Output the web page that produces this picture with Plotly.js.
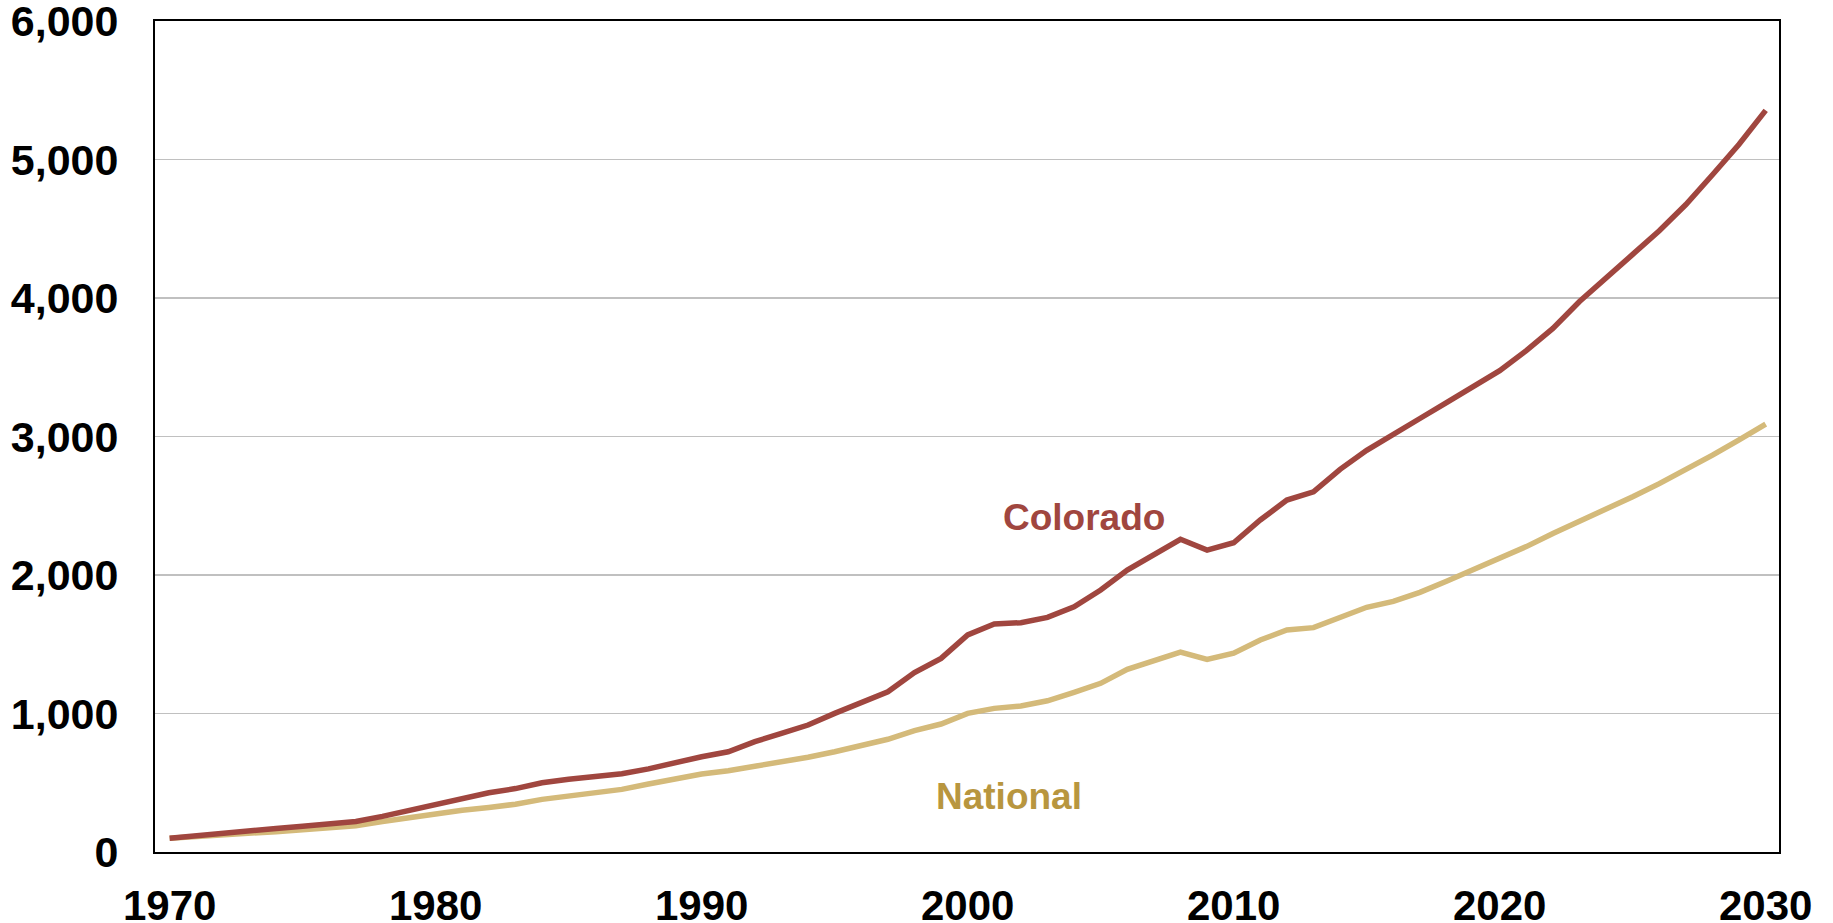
<!DOCTYPE html>
<html>
<head>
<meta charset="utf-8">
<script src="https://cdn.plot.ly/plotly-3.0.1.min.js"></script>
<style>html,body{margin:0;padding:0;background:#fff;}#chart{width:1833px;height:923px;}</style>
</head>
<body>
<div id="chart"></div>
<script>
var years = [1970,1971,1972,1973,1974,1975,1976,1977,1978,1979,
             1980,1981,1982,1983,1984,1985,1986,1987,1988,1989,
             1990,1991,1992,1993,1994,1995,1996,1997,1998,1999,
             2000,2001,2002,2003,2004,2005,2006,2007,2008,2009,
             2010,2011,2012,2013,2014,2015,2016,2017,2018,2019,
             2020,2021,2022,2023,2024,2025,2026,2027,2028,2029,2030];
var colorado = [100,115,132,152,170,186,201,220,257,300,
                345,392,428,458,500,525,545,565,600,645,
                688,724,797,857,917,1001,1078,1157,1295,1398,
                1567,1646,1656,1694,1771,1892,2036,2149,2258,2180,
                2233,2397,2541,2600,2763,2900,3020,3130,3245,3360,
                3475,3620,3780,3975,4150,4315,4485,4675,4890,5110,5355];
var national = [100,110,122,135,147,160,172,190,220,250,
                275,302,322,345,380,404,428,452,491,532,
                563,587,621,645,684,724,765,814,876,924,
                1001,1037,1054,1092,1153,1218,1319,1386,1444,1391,
                1435,1531,1603,1620,1694,1767,1810,1875,1955,2035,
                2120,2205,2300,2385,2475,2565,2660,2760,2865,2975,3090];
var xTicks = [1970,1980,1990,2000,2010,2020,2030];
var yTicks = [0,1000,2000,3000,4000,5000,6000];
var yTickText = ['0','1,000','2,000','3,000','4,000','5,000','6,000'];

var fontFam = 'Liberation Sans, Arial, sans-serif';
var traces = [
  {x: years, y: national, type: 'scatter', mode: 'lines', name: 'National',
   line: {color: '#D4BA7A', width: 5.5}, hoverinfo: 'skip'},
  {x: years, y: colorado, type: 'scatter', mode: 'lines', name: 'Colorado',
   line: {color: '#A0463F', width: 5.5}, hoverinfo: 'skip'}
];
var layout = {
  width: 1833, height: 923,
  margin: {l: 155, r: 54, t: 21, b: 71, pad: 0},
  paper_bgcolor: '#ffffff', plot_bgcolor: '#ffffff',
  showlegend: false,
  xaxis: {
    range: [1969.45, 2030.5], tickvals: xTicks, ticktext: xTicks.map(String),
    showgrid: false, zeroline: false, showline: true, linecolor: '#000', linewidth: 2,
    mirror: true, ticks: '', ticklabelstandoff: 16, ticklabeloverflow: 'allow',
    tickfont: {family: fontFam, size: 42, color: '#000', weight: 'bold'}
  },
  yaxis: {
    range: [0, 6000], tickvals: yTicks, ticktext: yTickText,
    showgrid: true, gridcolor: '#C0C0C0', gridwidth: 1.5, zeroline: false,
    showline: true, linecolor: '#000', linewidth: 2, mirror: true, ticks: '',
    ticklabelstandoff: 26, ticklabeloverflow: 'allow',
    tickfont: {family: fontFam, size: 43, color: '#000', weight: 'bold'}
  },
  annotations: [
    {x: 2004.36, y: 2412, xref: 'x', yref: 'y', text: 'Colorado', showarrow: false,
     font: {family: fontFam, size: 37, color: '#A0463F', weight: 'bold'}},
    {x: 2001.54, y: 404, xref: 'x', yref: 'y', text: 'National', showarrow: false,
     font: {family: fontFam, size: 37, color: '#B8963F', weight: 'bold'}}
  ]
};
Plotly.newPlot('chart', traces, layout, {staticPlot: true, displayModeBar: false});
</script>
</body>
</html>
